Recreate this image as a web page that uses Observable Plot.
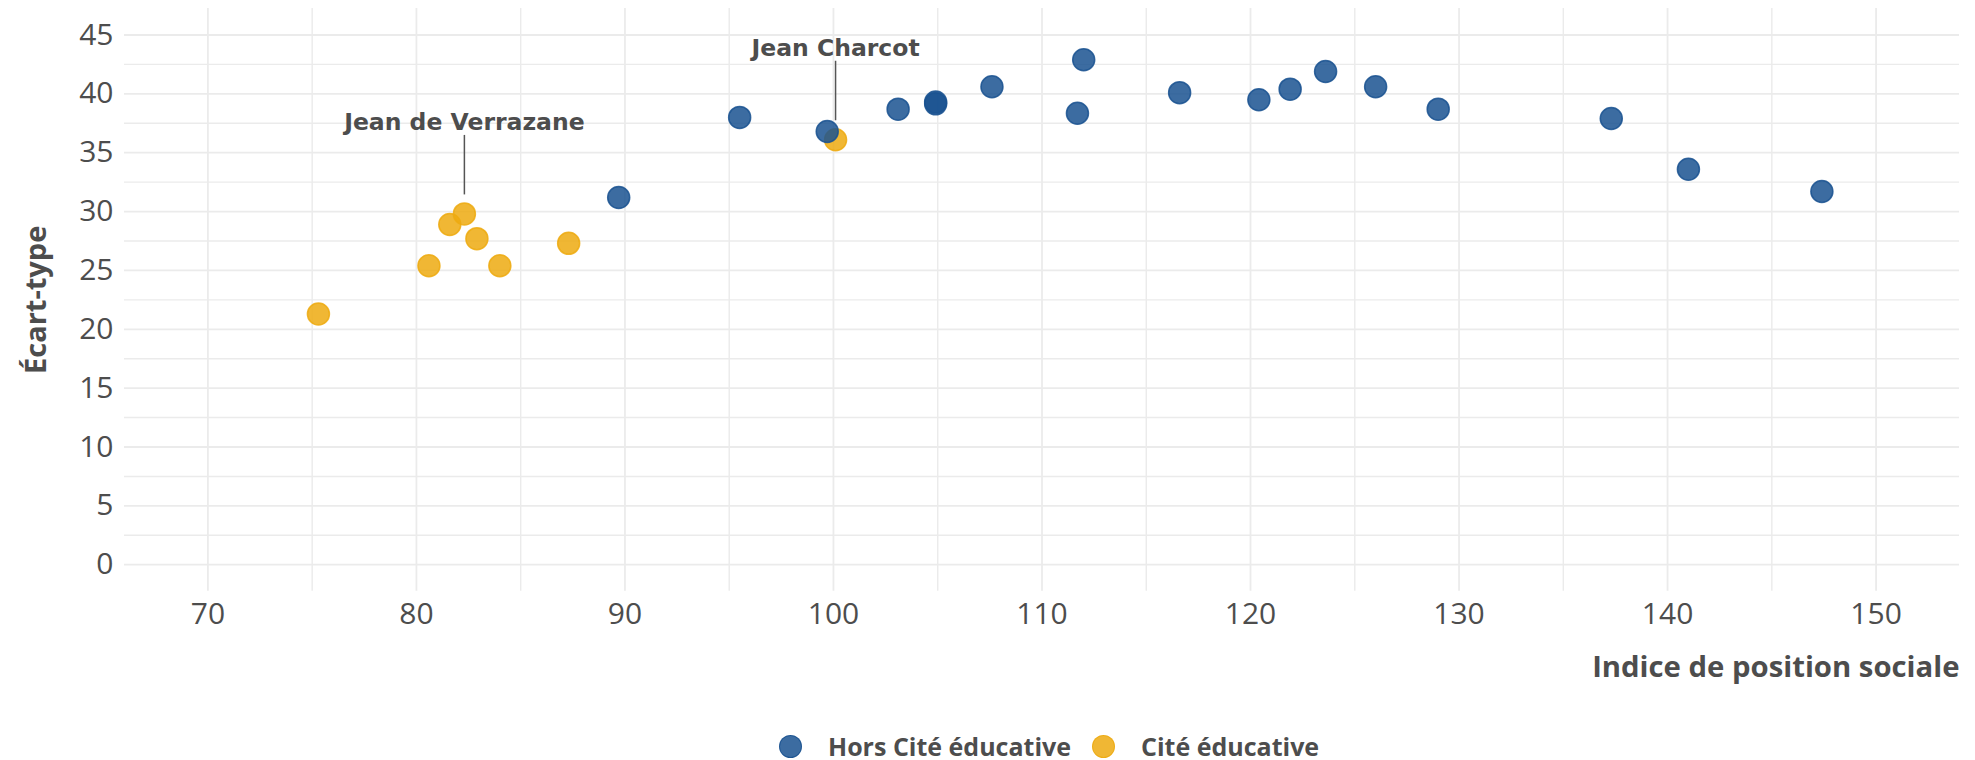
<!DOCTYPE html>
<html><head><meta charset="utf-8">
<script src="https://cdn.jsdelivr.net/npm/d3@7"></script>
<script src="https://cdn.jsdelivr.net/npm/@observablehq/plot@0.6"></script>
<style>
body{margin:0;background:#fff;width:1975px;height:760px;overflow:hidden;position:relative;font-family:"Open Sans",sans-serif;}
#chart{position:absolute;left:0;top:0;}
#legend{position:absolute;left:779px;top:731px;height:30px;display:flex;align-items:center;font-weight:700;font-size:25px;color:#4d4d4d;white-space:nowrap;}
.sw{width:23px;height:23px;border-radius:50%;display:inline-block;box-sizing:border-box;}
</style></head><body><div id="chart"></div><div id="legend"></div>
<script>
// Categories and colours
const categories = ["Hors Cité éducative", "Cité éducative"];
const colors = ["#1A5290", "#EDAA10"];

// Hors Cité éducative
const horsX = [89.7, 95.5, 99.7, 103.1, 104.9, 104.9, 107.6, 111.7, 112.0, 116.6, 120.4, 121.9, 123.6, 126.0, 129.0, 137.3, 141.0, 147.4];
const horsY = [31.2, 38.0, 36.8, 38.7, 39.15, 39.3, 40.6, 38.35, 42.9, 40.1, 39.5, 40.4, 41.9, 40.6, 38.7, 37.9, 33.6, 31.7];

// Cité éducative
const citeX = [75.3, 80.6, 81.6, 82.3, 82.9, 84.0, 87.3, 100.1];
const citeY = [21.3, 25.4, 28.9, 29.8, 27.7, 25.4, 27.3, 36.1];

// Labelled schools
const labelNames = ["Jean de Verrazane", "Jean Charcot"];
const labelX = [82.3, 100.1];
const labelY = [29.8, 36.1];

// Ticks
const xTicks = [70, 80, 90, 100, 110, 120, 130, 140, 150];
const xMinor = [75, 85, 95, 105, 115, 125, 135, 145];
const yTicks = [0, 5, 10, 15, 20, 25, 30, 35, 40, 45];
const yMinor = [2.5, 7.5, 12.5, 17.5, 22.5, 27.5, 32.5, 37.5, 42.5];

const xTitle = "Indice de position sociale";
const yTitle = "Écart-type";

const data = [
  ...citeX.map((x, i) => ({x, y: citeY[i], group: categories[1]})),
  ...horsX.map((x, i) => ({x, y: horsY[i], group: categories[0]}))
];
const labels = labelNames.map((name, i) => ({name, x: labelX[i], y: labelY[i]}));

const grid = "#ebebeb";
const ink = "#4d4d4d";

const plot = Plot.plot({
  width: 1975,
  height: 728,
  marginTop: 8,
  marginRight: 16,
  marginBottom: 137.3,
  marginLeft: 124,
  x: {domain: [66, 154]},
  y: {domain: [-2.25, 47.25]},
  color: {domain: categories, range: colors},
  style: {fontFamily: "Open Sans", fontSize: "30px", color: ink, background: "#fff", overflow: "visible"},
  marks: [
    Plot.ruleX(xMinor, {stroke: grid, strokeWidth: 1.4}),
    Plot.ruleY(yMinor, {stroke: grid, strokeWidth: 1.4}),
    Plot.ruleX(xTicks, {stroke: grid, strokeWidth: 1.8}),
    Plot.ruleY(yTicks, {stroke: grid, strokeWidth: 1.8}),
    Plot.axisX({ticks: xTicks, tickSize: 0, tickPadding: 11, label: null, fontSize: 30}),
    Plot.axisY({ticks: yTicks, tickSize: 0, tickPadding: 11, label: null, fontSize: 30}),
    Plot.text([yTitle], {text: d => d, frameAnchor: "left", textAnchor: "middle", lineAnchor: "middle", rotate: -90, dx: -88, fontSize: 29, fontWeight: 700, fill: ink}),
    Plot.text([xTitle], {text: d => d, frameAnchor: "bottom-right", textAnchor: "end", lineAnchor: "middle", dy: 76.3, fontSize: 29.3, fontWeight: 700, fill: ink}),
    Plot.dot(data, {x: "x", y: "y", fill: "group", stroke: "group", r: 11, fillOpacity: 0.85, strokeOpacity: 0.85, strokeWidth: 1.5}),
    Plot.ruleX(labels, {x: "x", y1: "y", y2: "y", insetTop: -78.5, insetBottom: 19, stroke: "#555", strokeWidth: 1.5}),
    Plot.text(labels, {x: "x", y: "y", text: "name", dy: -91.5, lineAnchor: "middle", fontFamily: "DejaVu Sans", fontWeight: 700, fontSize: 23.5, fill: ink})
  ]
});
document.getElementById("chart").appendChild(plot);

// Legend
const legend = document.getElementById("legend");
categories.forEach((c, i) => {
  const item = document.createElement("span");
  item.style.display = "inline-flex";
  item.style.alignItems = "center";
  item.style.marginLeft = i === 0 ? "0px" : "21px";
  const sw = document.createElement("span");
  sw.className = "sw";
  const f = d3.color(colors[i]).copy({opacity: 0.85});
  sw.style.background = f.formatRgb();
  sw.style.border = "1.5px solid " + f.formatRgb();
  sw.style.marginRight = "26px";
  const t = document.createElement("span");
  t.textContent = c;
  item.appendChild(sw);
  item.appendChild(t);
  legend.appendChild(item);
});
</script>
</body></html>
